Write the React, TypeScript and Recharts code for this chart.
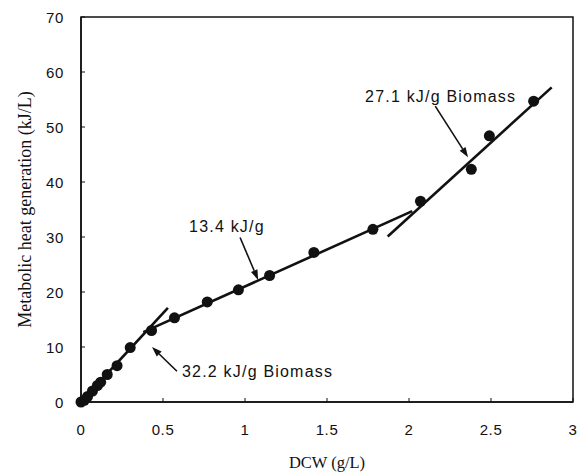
import {
  ComposedChart,
  Scatter,
  Line,
  XAxis,
  YAxis,
  ReferenceArea,
  ReferenceLine,
  ReferenceDot,
  Label,
} from "recharts";

// measured points: dry cell weight (g/L) vs metabolic heat (kJ/L)
const dcw = [0, 0.02, 0.04, 0.07, 0.1, 0.12, 0.16, 0.22, 0.3, 0.43, 0.57, 0.77, 0.96, 1.15, 1.42, 1.78, 2.07, 2.38, 2.49, 2.76];
const heat = [0, 0.3, 1.0, 2.0, 3.0, 3.6, 5.0, 6.6, 9.9, 13.0, 15.3, 18.2, 20.4, 23.0, 27.2, 31.4, 36.5, 42.3, 48.4, 54.7];

// fitted segments (end points)
const fit1 = [{ x: 0, y: 0 }, { x: 0.53, y: 17.1 }];
const fit2 = [{ x: 0.38, y: 12.7 }, { x: 2.02, y: 34.7 }];
const fit3 = [{ x: 1.87, y: 30.1 }, { x: 2.87, y: 57.2 }];

const xTicks = [0, 0.5, 1, 1.5, 2, 2.5, 3];
const yTicks = [0, 10, 20, 30, 40, 50, 60, 70];

// annotation texts and arrows (data coords)
const notes = [
  { text: "32.2 kJ/g Biomass", tx: 0.616, ty: 5.5, from: [0.585, 5.6], to: [0.433, 10.0] },
  { text: "13.4 kJ/g", tx: 0.659, ty: 31.9, from: [0.97, 29.9], to: [1.08, 22.2] },
  { text: "27.1 kJ/g Biomass", tx: 1.732, ty: 55.6, from: [2.16, 53.8], to: [2.36, 44.5] },
];

const points = dcw.map((x, i) => ({ x, y: heat[i] }));

const sans = "'Liberation Sans', Arial, sans-serif";
const serif = "'Liberation Serif', 'Times New Roman', serif";

function XTick(props: any) {
  const { x, y, payload } = props;
  return (
    <g>
      <line x1={x} x2={x} y1={y} y2={y - 4} stroke="#111" />
      <text x={x} y={y + 33} textAnchor="middle" fontFamily={sans} fontSize={15} letterSpacing={0.6} fill="#111">
        {payload.value}
      </text>
    </g>
  );
}

function YTick(props: any) {
  const { x, y, payload } = props;
  return (
    <g>
      <line x1={x} x2={x + 4} y1={y} y2={y} stroke="#111" />
      <text x={x - 17} y={y + 5.8} textAnchor="end" fontFamily={sans} fontSize={15} letterSpacing={0.6} fill="#111">
        {payload.value}
      </text>
    </g>
  );
}

function Arrow(props: any) {
  const { x1, y1, x2, y2 } = props;
  const a = Math.atan2(y2 - y1, x2 - x1);
  const len = 10;
  const w = 3.5;
  const bx = x2 - len * Math.cos(a);
  const by = y2 - len * Math.sin(a);
  const px = -Math.sin(a) * w;
  const py = Math.cos(a) * w;
  return (
    <g>
      <line x1={x1} y1={y1} x2={bx} y2={by} stroke="#111" strokeWidth={1.6} />
      <polygon points={`${x2},${y2} ${bx + px},${by + py} ${bx - px},${by - py}`} fill="#111" />
    </g>
  );
}

export default function App() {
  return (
    <div style={{ position: "absolute", left: 0, top: 0, background: "#fff" }}>
      <ComposedChart width={581} height={473} margin={{ top: 17, right: 8, bottom: 0, left: 0 }}>
        <XAxis
          dataKey="x"
          type="number"
          domain={[0, 3]}
          ticks={xTicks}
          height={71}
          tickSize={0}
          tickMargin={0}
          tickLine={false}
          tick={<XTick />}
          axisLine={{ stroke: "#111", strokeWidth: 1.5 }}
        >
          <Label
            content={(p: any) => (
              <text
                x={p.viewBox.x + p.viewBox.width / 2}
                y={468}
                textAnchor="middle"
                fontFamily={serif}
                fontSize={16.5}
                fill="#111"
              >
                DCW (g/L)
              </text>
            )}
          />
        </XAxis>
        <YAxis
          type="number"
          domain={[0, 70]}
          ticks={yTicks}
          width={81}
          tickSize={0}
          tickMargin={0}
          tickLine={false}
          tick={<YTick />}
          axisLine={{ stroke: "#111", strokeWidth: 1.5 }}
        >
          <Label
            content={(p: any) => {
              const cx = 25;
              const cy = p.viewBox.y + p.viewBox.height / 2;
              return (
                <text
                  x={cx}
                  y={cy}
                  transform={`rotate(-90 ${cx} ${cy})`}
                  textAnchor="middle"
                  dominantBaseline="central"
                  fontFamily={serif}
                  fontSize={18}
                  fill="#111"
                >
                  Metabolic heat generation (kJ/L)
                </text>
              );
            }}
          />
        </YAxis>
        <ReferenceArea x1={0} x2={3} y1={0} y2={70} fill="none" stroke="#111" strokeWidth={1.5} />
        <Line data={fit1} dataKey="y" type="linear" stroke="#111" strokeWidth={2.6} dot={false} isAnimationActive={false} />
        <Line data={fit2} dataKey="y" type="linear" stroke="#111" strokeWidth={2.6} dot={false} isAnimationActive={false} />
        <Line data={fit3} dataKey="y" type="linear" stroke="#111" strokeWidth={2.6} dot={false} isAnimationActive={false} />
        <Scatter
          data={points}
          dataKey="y"
          isAnimationActive={false}
          shape={(p: any) => <circle cx={p.cx} cy={p.cy} r={5.5} fill="#111" />}
        />
        {notes.map((n) => (
          <ReferenceLine
            key={n.text + "-arrow"}
            segment={[
              { x: n.from[0], y: n.from[1] },
              { x: n.to[0], y: n.to[1] },
            ]}
            shape={(p: any) => <Arrow {...p} />}
          />
        ))}
        {notes.map((n) => (
          <ReferenceDot
            key={n.text}
            x={n.tx}
            y={n.ty}
            r={0}
            shape={(p: any) => (
              <text
                x={p.cx}
                y={p.cy}
                dominantBaseline="central"
                fontFamily={sans}
                fontSize={16}
                letterSpacing={1.2}
                fill="#111"
              >
                {n.text}
              </text>
            )}
          />
        ))}
      </ComposedChart>
    </div>
  );
}
